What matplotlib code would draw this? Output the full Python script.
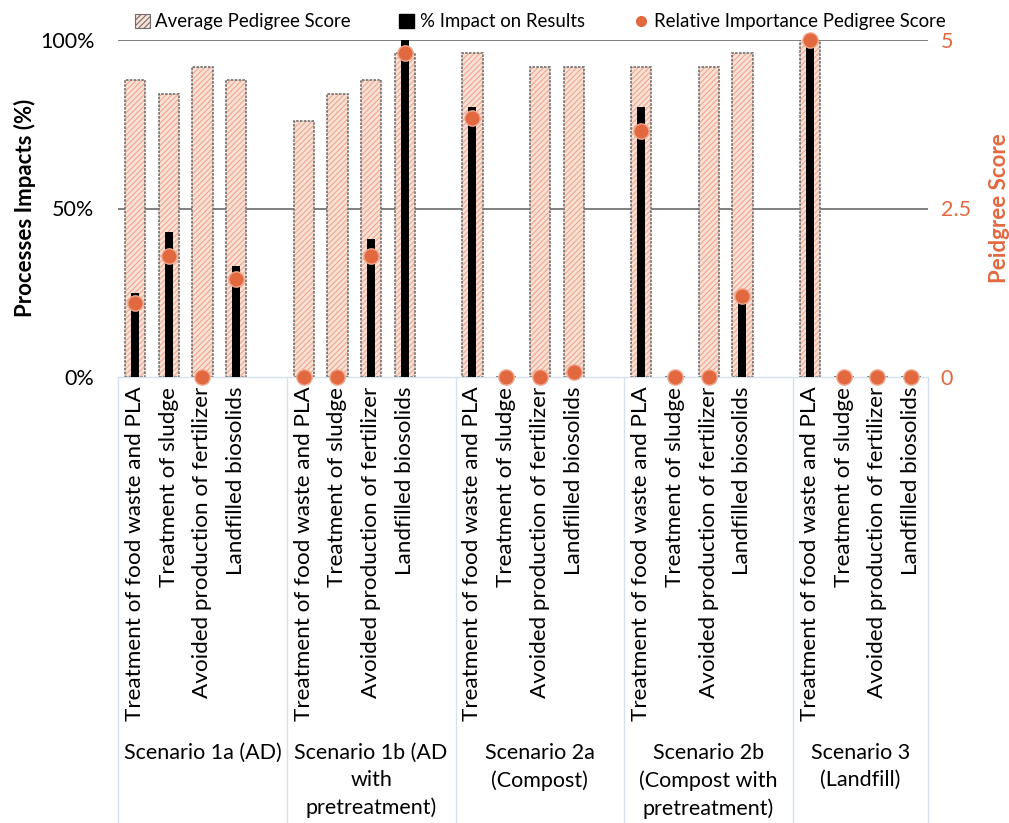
import matplotlib
matplotlib.use("Agg")
import matplotlib.pyplot as plt
import matplotlib.transforms as mtransforms
from matplotlib.patches import Patch
from matplotlib.lines import Line2D

plt.rcParams['font.family'] = ['Lato', 'DejaVu Sans']
plt.rcParams['hatch.linewidth'] = 0.8

# ---- data -------------------------------------------------------------
processes = [
    "Treatment of food waste and PLA",
    "Treatment of sludge",
    "Avoided production of fertilizer",
    "Landfilled biosolids",
]
scenarios = [
    "Scenario 1a (AD)",
    "Scenario 1b (AD\nwith\npretreatment)",
    "Scenario 2a\n(Compost)",
    "Scenario 2b\n(Compost with\npretreatment)",
    "Scenario 3\n(Landfill)",
]
# average pedigree score (0-5), per scenario, per process
avg_pedigree = [
    [4.4, 4.2, 4.6, 4.4],
    [3.8, 4.2, 4.4, 4.8],
    [4.8, 0.0, 4.6, 4.6],
    [4.6, 0.0, 4.6, 4.8],
    [5.0, 0.0, 0.0, 0.0],
]
# % impact on results
impact_pct = [
    [25, 43, 0, 33],
    [0, 0, 41, 100],
    [80, 0, 0, 1],
    [80, 0, 0, 23],
    [100, 0, 0, 0],
]
# relative importance pedigree score (0-5)
rel_importance = [
    [1.1, 1.8, 0.0, 1.45],
    [0.0, 0.0, 1.8, 4.8],
    [3.85, 0.0, 0.0, 0.07],
    [3.65, 0.0, 0.0, 1.2],
    [5.0, 0.0, 0.0, 0.0],
]
left_ticks = [0, 50, 100]
left_ticklabels = ["0%", "50%", "100%"]
right_ticks = [0, 2.5, 5]
right_ticklabels = ["0", "2.5", "5"]

# ---- styling ----------------------------------------------------------
ORANGE = "#E2683F"
PINK = "#FBE0D4"
HATCH = "#EBA791"
OUTLINE = "#6f6f6f"
BOXLINE = "#d5e1ec"
FS = 15.5

n_proc = len(processes)
slot = n_proc + 1          # one empty slot between scenarios
xs, labels = [], []
for g in range(len(scenarios)):
    for i in range(n_proc):
        xs.append(g * slot + i)
        labels.append(processes[i])
flat = lambda rows: [v for r in rows for v in r]
ped = flat(avg_pedigree)
imp = flat(impact_pct)
rel = flat(rel_importance)

fig = plt.figure(figsize=(10.09, 8.23), dpi=100)
fig.patch.set_facecolor("white")
rect = [118 / 1009, 1 - 377 / 823, (928 - 118) / 1009, (377 - 40) / 823]

ax1 = fig.add_axes(rect)          # left scale: % impact
ax2 = ax1.twinx()                 # right scale: pedigree bars + grid
ax3 = ax1.twinx()                 # right scale: importance markers
ax2.set_zorder(0)
ax1.set_zorder(1)
ax3.set_zorder(2)
ax1.patch.set_visible(False)
ax3.patch.set_visible(False)

xmin, xmax = -0.5, len(scenarios) * slot - 1 - 0.5
ax1.set_xlim(xmin, xmax)
for ax in (ax1, ax2, ax3):
    for s in ax.spines.values():
        s.set_visible(False)
ax1.set_ylim(0, 100)
ax2.set_ylim(0, 5)
ax3.set_ylim(0, 5)

# gridlines at 50% and 100%
for yv in right_ticks[1:]:
    ax2.axhline(yv, color="#7f7f7f", lw=1.4, zorder=0)

# pedigree bars: hatched fill then outline
ax2.bar(xs, ped, width=0.6, color=PINK, edgecolor=HATCH, hatch="//////",
        linewidth=0, zorder=2)
ax2.bar(xs, ped, width=0.6, fill=False, edgecolor=OUTLINE, linewidth=1.2,
        linestyle=(0, (1.5, 0.8)), zorder=3)

# % impact bars
ax1.bar(xs, imp, width=0.24, color="black", zorder=3)

# relative importance markers
ax3.plot(xs, rel, linestyle="none", marker="o", markersize=11,
         markerfacecolor=ORANGE, markeredgecolor="#f1a98f",
         markeredgewidth=1.0, clip_on=False, zorder=4)

# left axis
ax1.set_yticks(left_ticks)
ax1.set_yticklabels(left_ticklabels, fontsize=FS)
ax1.tick_params(axis="y", length=0, pad=17)
ax1.set_xticks(xs)
ax1.set_xticklabels(labels, rotation=90, va="top", ha="center", fontsize=16.2)
ax1.tick_params(axis="x", length=0, pad=7)

# right axis
ax2.set_yticks(right_ticks)
ax2.set_yticklabels(right_ticklabels, fontsize=FS, color=ORANGE)
ax2.tick_params(axis="y", length=0, pad=9)
ax3.set_yticks([])

# category box lines below the plot
trans = mtransforms.blended_transform_factory(ax1.transData, ax1.transAxes)
ax1.plot([xmin, xmax], [0, 0], transform=trans, color=BOXLINE, lw=1.0,
         clip_on=False, zorder=1)
bounds = [xmin] + [g * slot + n_proc + 0.5 for g in range(len(scenarios) - 1)] + [xmax]
for b in bounds:
    ax1.plot([b, b], [0, -1.35], transform=trans, color=BOXLINE, lw=1.0,
             clip_on=False, zorder=1)
for g, name in enumerate(scenarios):
    cx = (bounds[g] + bounds[g + 1]) / 2
    ax1.text(cx, -1.085, name, transform=trans, ha="center", va="top",
             fontsize=FS, linespacing=1.45)

# axis titles
fig.text(25 / 1009, 1 - 208 / 823, "Processes Impacts (%)", rotation=90,
         ha="center", va="center", fontsize=16, fontweight="bold")
fig.text(1000 / 1009, 1 - 208 / 823, "Peidgree Score", rotation=90,
         ha="center", va="center", fontsize=16, fontweight="bold", color=ORANGE)

# legend
handles = [
    Patch(facecolor=PINK, edgecolor=OUTLINE, hatch="//////", linewidth=0.8),
    Patch(facecolor="black", edgecolor="black"),
    Line2D([], [], linestyle="none", marker="o", markersize=7,
           markerfacecolor=ORANGE, markeredgecolor=ORANGE),
]
fig.legend(handles, ["Average Pedigree Score", "% Impact on Results",
                     "Relative Importance Pedigree Score"],
           loc="center", bbox_to_anchor=(540 / 1009, 1 - 22 / 823), ncol=3,
           frameon=False, fontsize=13.4, handlelength=0.8, handleheight=0.8,
           handletextpad=0.3, columnspacing=2.6)

fig.savefig("out.png", dpi=100, facecolor="white")
